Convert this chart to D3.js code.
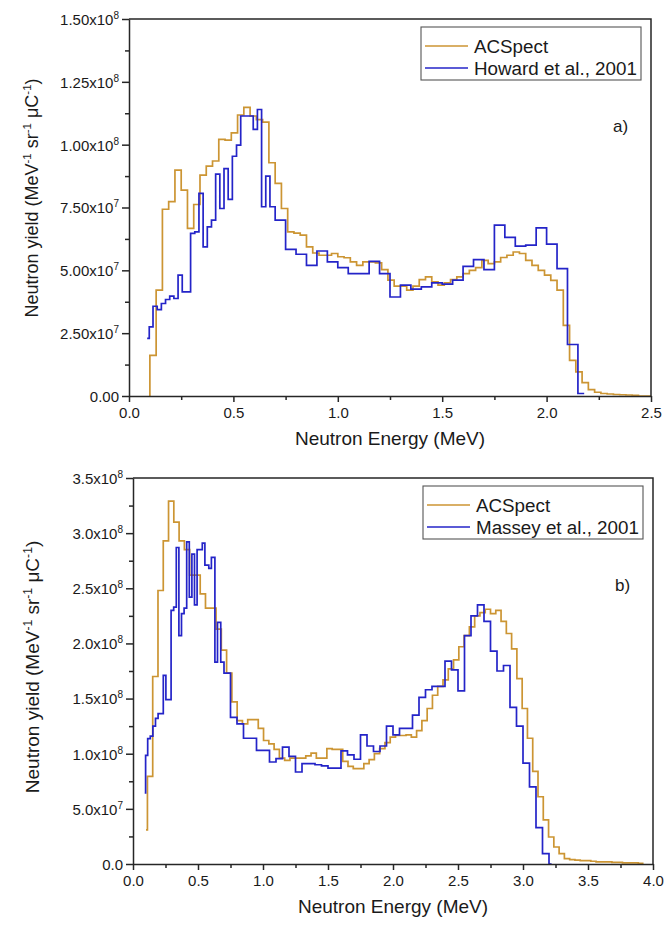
<!DOCTYPE html>
<html>
<head>
<meta charset="utf-8">
<script src="https://cdn.jsdelivr.net/npm/d3@7"></script>
<style>
  body { margin: 0; background: #fff; }
  svg { display: block; }
  text { font-family: "Liberation Sans", Arial, Helvetica, sans-serif; fill: #1a1a1a; }
</style>
</head>
<body>
<svg id="fig" width="664" height="925"></svg>
<script>
// ---------- Panel a) : neutron yield, ACSpect vs Howard et al. ----------
// ACSpect histogram: regular bins starting at 0.10 MeV, 0.03 MeV wide (units of 1e7)
const acspectA_start = 0.10;
const acspectA_width = 0.03;
const acspectA = [
  1.62, 4.21, 7.43, 7.73, 8.99, 8.19, 6.67, 7.62, 8.79, 9.15,
  9.35, 10.21, 10.18, 10.47, 11.18, 11.48, 11.14, 11.0, 10.9, 9.28,
  8.46, 7.46, 6.53, 6.48, 6.40, 5.93, 5.69, 5.60, 5.60, 5.67,
  5.54, 5.50, 5.34, 5.20, 5.34, 5.34, 5.30, 5.03, 4.61, 4.37,
  4.37, 4.21, 4.37, 4.63, 4.74, 4.54, 4.41, 4.50, 4.63, 4.74,
  4.87, 5.00, 5.11, 5.40, 5.27, 5.34, 5.51, 5.60, 5.73, 5.67,
  5.40, 5.20, 5.00, 4.81, 4.60, 4.21, 2.81, 1.42, 0.96, 0.53,
  0.25, 0.15, 0.10, 0.08, 0.06, 0.05, 0.04, 0.03, 0, 0
];
// Howard et al., 2001: bin left edges (MeV) and yields (units of 1e7)
const howardE = [
  0.087, 0.097, 0.115, 0.135, 0.155, 0.175, 0.195, 0.215, 0.235, 0.255,
  0.295, 0.315, 0.335, 0.355, 0.375, 0.395, 0.415, 0.435, 0.455, 0.475,
  0.495, 0.515, 0.535, 0.595, 0.615, 0.635, 0.655, 0.675, 0.70, 0.75,
  0.80, 0.85, 0.90, 0.95, 1.00, 1.05, 1.15, 1.20, 1.25, 1.30,
  1.35, 1.40, 1.45, 1.50, 1.55, 1.60, 1.65, 1.70, 1.75, 1.80,
  1.85, 1.90, 1.95, 2.00, 2.05, 2.10, 2.15
];
const howardY = [
  2.29, 2.75, 3.57, 3.44, 3.68, 3.84, 3.97, 3.88, 4.81, 4.14,
  6.47, 6.53, 8.06, 5.93, 6.73, 7.00, 8.83, 7.46, 9.05, 7.82,
  9.54, 9.98, 11.14, 10.61, 11.40, 7.53, 8.75, 7.53, 7.00, 5.83,
  5.64, 5.20, 5.77, 5.34, 5.11, 4.87, 5.36, 4.87, 3.94, 4.41,
  4.25, 4.34, 4.50, 4.45, 4.61, 5.16, 5.43, 5.03, 6.80, 6.31,
  5.96, 6.00, 6.69, 6.04, 5.07, 2.05, 0.10
];
const howardEnd = 2.18;

// ---------- Panel b) : ACSpect vs Massey et al. ----------
// ACSpect histogram: a short first bin from 0.10 MeV, then regular 0.0406 MeV bins (units of 1e8)
const acspectB_first = [0.10, 0.31];
const acspectB_start = 0.111;
const acspectB_width = 0.0406;
const acspectB = [
  0.795, 1.70, 2.48, 2.93, 3.29, 3.10, 2.93, 2.85, 2.62, 2.62,
  2.45, 2.32, 2.32, 2.13, 1.94, 1.73, 1.47, 1.30, 1.27, 1.31,
  1.31, 1.23, 1.12, 1.09, 1.04, 0.96, 0.94, 0.96, 0.96, 0.96,
  0.98, 1.006, 0.96, 0.96, 1.046, 1.04, 1.04, 0.93, 0.886, 0.865,
  0.865, 0.91, 0.946, 1.00, 1.046, 1.10, 1.15, 1.165, 1.165, 1.17,
  1.15, 1.21, 1.30, 1.41, 1.53, 1.61, 1.67, 1.77, 1.85, 1.97,
  2.07, 2.15, 2.25, 2.28, 2.31, 2.27, 2.30, 2.20, 2.09, 1.95,
  1.68, 1.41, 1.14, 0.84, 0.61, 0.40, 0.245, 0.154, 0.094, 0.049,
  0.04, 0.035, 0.03, 0.03, 0.025, 0.02, 0.02, 0.02, 0.015, 0.015,
  0.01, 0.01, 0.01, 0.005
];
// Massey et al., 2001: bin left edges (MeV) and yields (units of 1e8)
const masseyE = [
  0.090, 0.097, 0.113, 0.133, 0.153, 0.173, 0.193, 0.233, 0.253, 0.293,
  0.313, 0.333, 0.353, 0.373, 0.393, 0.413, 0.433, 0.453, 0.473, 0.493,
  0.533, 0.553, 0.583, 0.603, 0.630, 0.650, 0.675, 0.70, 0.75, 0.80,
  0.85, 0.95, 1.05, 1.10, 1.15, 1.20, 1.25, 1.30, 1.40, 1.45,
  1.50, 1.60, 1.65, 1.70, 1.75, 1.80, 1.85, 1.90, 1.95, 2.00,
  2.05, 2.15, 2.20, 2.25, 2.30, 2.40, 2.45, 2.50, 2.55, 2.60,
  2.65, 2.70, 2.75, 2.80, 2.85, 2.90, 2.95, 3.00, 3.05, 3.10,
  3.15, 3.20
];
const masseyY = [
  0.644, 0.985, 1.137, 1.16, 1.25, 1.32, 1.364, 1.71, 1.49, 2.30,
  2.33, 2.87, 2.07, 2.27, 2.32, 2.92, 2.42, 2.81, 2.35, 2.85,
  2.91, 2.71, 2.68, 2.78, 1.83, 2.19, 1.83, 1.73, 1.33, 1.27,
  1.14, 1.03, 0.925, 0.955, 1.06, 0.975, 0.834, 0.91, 0.90, 0.89,
  0.87, 1.025, 0.99, 0.95, 1.17, 1.07, 1.02, 1.07, 1.25, 1.17,
  1.23, 1.35, 1.51, 1.58, 1.61, 1.84, 1.76, 1.57, 2.07, 2.25,
  2.35, 2.20, 1.93, 1.75, 1.80, 1.42, 1.25, 0.915, 0.70, 0.33,
  0.094, 0
];
const masseyEnd = 3.22;

// ---------- Axis ticks and labels ----------
const xTicksA = [0, 0.5, 1.0, 1.5, 2.0, 2.5];
const xMinorA = [0.25, 0.75, 1.25, 1.75, 2.25];
const xTicksB = [0, 0.5, 1.0, 1.5, 2.0, 2.5, 3.0, 3.5, 4.0];
const xMinorB = [0.25, 0.75, 1.25, 1.75, 2.25, 2.75, 3.25, 3.75];
const yTicksA = [0, 2.5e7, 5e7, 7.5e7, 1e8, 1.25e8, 1.5e8];
const yTickTextA = ["0.00", "2.50x10^7", "5.00x10^7", "7.50x10^7", "1.00x10^8", "1.25x10^8", "1.50x10^8"];
const yMinorA = [1.25e7, 3.75e7, 6.25e7, 8.75e7, 1.125e8, 1.375e8];
const yTicksB = [0, 5e7, 1e8, 1.5e8, 2e8, 2.5e8, 3e8, 3.5e8];
const yTickTextB = ["0.0", "5.0x10^7", "1.0x10^8", "1.5x10^8", "2.0x10^8", "2.5x10^8", "3.0x10^8", "3.5x10^8"];
const yMinorB = [2.5e7, 7.5e7, 1.25e8, 1.75e8, 2.25e8, 2.75e8, 3.25e8];
const xTitle = "Neutron Energy (MeV)";
// y title pieces: [normal text, superscript]
const yTitleParts = [["Neutron yield (MeV", "-1"], [" sr", "-1"], ["  \u03BCC", "-1"], [")", ""]];

const COLOR_ACS = "#CC9533";
const COLOR_EXP = "#2424C8";
const AXIS_COLOR = "#262626";
const FONT = "'Liberation Sans', Arial, sans-serif";

const svg = d3.select("#fig");

// Builds the [E, yield] vertices of a step histogram (value held until next edge)
function stepPoints(edges, values, end, unit, fromZero) {
  const pts = edges.map((e, i) => [e, values[i] * unit]);
  pts.push([end, values[values.length - 1] * unit]);
  if (fromZero) pts.unshift([edges[0], 0]);
  return pts;
}

function drawPanel(p) {
  const x = d3.scaleLinear().domain([0, p.xMax]).range([p.left, p.right]);
  const y = d3.scaleLinear().domain([0, p.yMax]).range([p.bottom, p.top]);
  const g = svg.append("g");

  // histogram series
  const line = d3.line().x(d => x(d[0])).y(d => y(d[1])).curve(d3.curveStepAfter);
  p.series.forEach(s => {
    g.append("path")
      .attr("d", line(s.points))
      .attr("fill", "none")
      .attr("stroke", s.color)
      .attr("stroke-width", 1.7);
  });

  // frame (top and right)
  g.append("path")
    .attr("d", `M${p.left},${p.top}H${p.right}V${p.bottom}`)
    .attr("fill", "none").attr("stroke", AXIS_COLOR).attr("stroke-width", 1.5);

  // x axis, major and minor ticks
  const xa = g.append("g").attr("transform", `translate(0,${p.bottom})`)
    .call(d3.axisBottom(x).tickValues(p.xTicks).tickSize(6).tickSizeOuter(0).tickPadding(5)
      .tickFormat(d3.format(".1f")));
  g.append("g").attr("transform", `translate(0,${p.bottom})`)
    .call(d3.axisBottom(x).tickValues(p.xMinor).tickSize(4).tickFormat(""))
    .select(".domain").remove();

  // y axis, major and minor ticks
  const ya = g.append("g").attr("transform", `translate(${p.left},0)`)
    .call(d3.axisLeft(y).tickValues(p.yTicks).tickSize(7).tickSizeOuter(0).tickFormat(""));
  g.append("g").attr("transform", `translate(${p.left},0)`)
    .call(d3.axisLeft(y).tickValues(p.yMinor).tickSize(4).tickFormat(""))
    .select(".domain").remove();

  g.selectAll(".domain, .tick line").attr("stroke", AXIS_COLOR).attr("stroke-width", 1.5);
  xa.selectAll(".tick text").attr("font-size", 15).attr("fill", "#1a1a1a").style("font-family", FONT);

  // y tick labels with superscript exponents
  ya.selectAll(".tick").each(function (d, i) {
    const parts = p.yTickText[i].split("^");
    const t = d3.select(this).select("text")
      .attr("x", -10).attr("dy", "0.36em")
      .attr("font-size", 15).attr("fill", "#1a1a1a").style("font-family", FONT)
      .text(null);
    t.append("tspan").text(parts[0]);
    if (parts[1]) t.append("tspan").attr("font-size", 10).attr("dy", -6).text(parts[1]);
  });

  // axis titles
  g.append("text")
    .attr("x", (p.left + p.right) / 2).attr("y", p.bottom + 49)
    .attr("text-anchor", "middle").attr("font-size", 19)
    .text(xTitle);

  const yt = g.append("text")
    .attr("transform", `translate(${p.yTitleX},${p.yTitleY}) rotate(-90)`)
    .attr("text-anchor", "middle").attr("font-size", p.yTitleSize);
  let raised = false;
  yTitleParts.forEach(([base, sup]) => {
    yt.append("tspan").attr("dy", raised ? 7 : 0).text(base);
    raised = false;
    if (sup) {
      yt.append("tspan").attr("font-size", p.yTitleSize * 0.64).attr("dy", -7).text(sup);
      raised = true;
    }
  });

  // legend
  const lg = g.append("g").attr("transform", `translate(${p.right - 230},${p.top + 8})`);
  lg.append("rect").attr("width", 220).attr("height", 53)
    .attr("fill", "#fff").attr("stroke", "#555").attr("stroke-width", 1.1);
  p.series.forEach((s, i) => {
    const yy = 19 + i * 22;
    lg.append("line").attr("x1", 4).attr("x2", 47).attr("y1", yy).attr("y2", yy)
      .attr("stroke", s.color).attr("stroke-width", 1.7);
    lg.append("text").attr("x", 53).attr("y", yy).attr("dy", "0.36em")
      .attr("font-size", 18.8).text(s.name);
  });

  // panel tag
  g.append("text").attr("x", p.right - 38).attr("y", p.top + 113)
    .attr("font-size", 17).text(p.tag);
}

drawPanel({
  left: 129, right: 651, top: 19, bottom: 396,
  xMax: 2.5, yMax: 1.5e8,
  xTicks: xTicksA, xMinor: xMinorA,
  yTicks: yTicksA, yTickText: yTickTextA, yMinor: yMinorA,
  yTitleX: 38, yTitleY: 198, yTitleSize: 18,
  tag: "a)",
  series: [
    { name: "ACSpect", color: COLOR_ACS,
      points: stepPoints(acspectA.map((_, i) => acspectA_start + i * acspectA_width), acspectA,
                         acspectA_start + acspectA.length * acspectA_width, 1e7, true) },
    { name: "Howard et al., 2001", color: COLOR_EXP,
      points: stepPoints(howardE, howardY, howardEnd, 1e7, false) }
  ]
});

drawPanel({
  left: 133, right: 653, top: 478, bottom: 864,
  xMax: 4.0, yMax: 3.5e8,
  xTicks: xTicksB, xMinor: xMinorB,
  yTicks: yTicksB, yTickText: yTickTextB, yMinor: yMinorB,
  yTitleX: 39, yTitleY: 667, yTitleSize: 19,
  tag: "b)",
  series: [
    { name: "ACSpect", color: COLOR_ACS,
      points: stepPoints([acspectB_first[0]].concat(acspectB.map((_, i) => acspectB_start + i * acspectB_width)),
                         [acspectB_first[1]].concat(acspectB),
                         acspectB_start + acspectB.length * acspectB_width, 1e8, false) },
    { name: "Massey et al., 2001", color: COLOR_EXP,
      points: stepPoints(masseyE, masseyY, masseyEnd, 1e8, false) }
  ]
});
</script>
</body>
</html>
